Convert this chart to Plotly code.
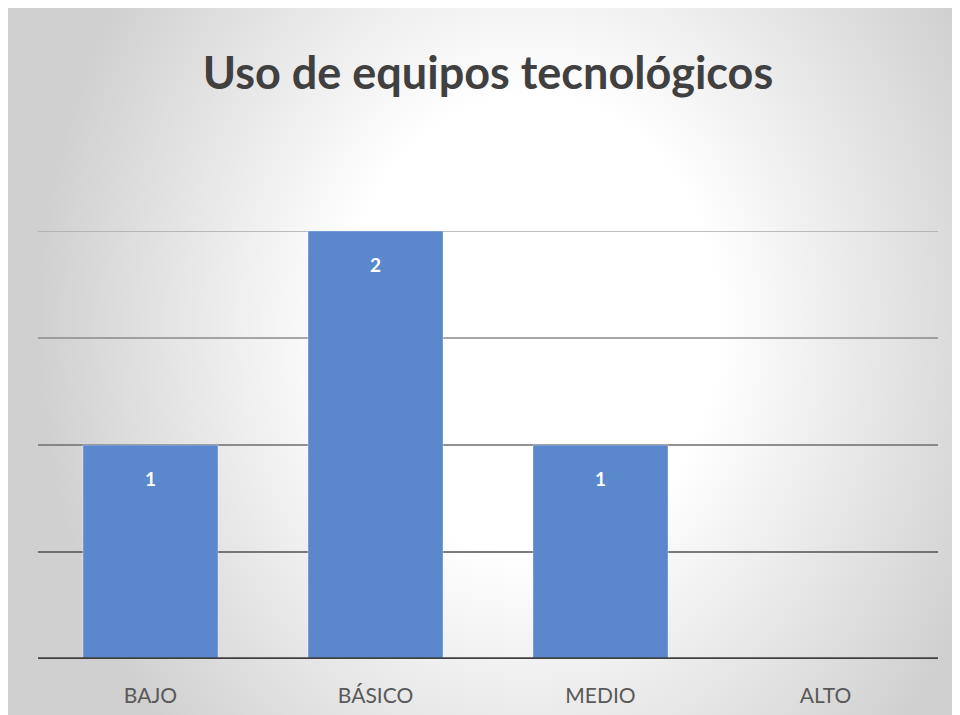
import base64
import plotly.graph_objects as go

# ---- data ----
categories = ["BAJO", "BÁSICO", "MEDIO", "ALTO"]
values = [1, 2, 1, 0]
grid_vals = [0.5, 1.0, 1.5, 2.0]
grid_colors = ["#4f4f4f", "#6c6c6c", "#8a8a8a", "#a8a8a8"]
title_text = "Uso de equipos tecnológicos"

# page body has an 8px margin, so the figure is sized to fit inside the window
W, H = 950, 707
ML, MR, MT, MB = 30, 20, 223, 56
PW, PH = W - ML - MR, H - MT - MB

# radial gradient background as an SVG image
gcx, gcy, grx, gry = 0.55 * W, 0.45 * H, 0.52 * W, 0.85 * H
svg = f'''<svg xmlns="http://www.w3.org/2000/svg" width="{W}" height="{H}" viewBox="0 0 {W} {H}" preserveAspectRatio="none">
<defs><radialGradient id="g" gradientUnits="userSpaceOnUse" cx="0" cy="0" r="1"
 gradientTransform="translate({gcx} {gcy}) scale({grx} {gry})">
<stop offset="0" stop-color="#ffffff"/>
<stop offset="0.38" stop-color="#ffffff"/>
<stop offset="1" stop-color="#d0d0d0"/>
</radialGradient></defs>
<rect x="0" y="0" width="{W}" height="{H}" fill="url(#g)"/>
</svg>'''
src = "data:image/svg+xml;base64," + base64.b64encode(svg.encode()).decode()

fig = go.Figure()
fig.add_trace(go.Bar(
    x=categories, y=values,
    marker=dict(color="#5b87cc", line=dict(color="rgba(255,255,255,0.35)", width=1)),
    hoverinfo="skip",
))

# data labels inside top of bars
for c, v in zip(categories, values):
    if v > 0:
        fig.add_annotation(x=c, y=v, text=f"<b>{v}</b>", showarrow=False,
                           yshift=-33, yanchor="middle",
                           font=dict(family="Lato", size=19, color="white"))

# gridlines with varying shades
shapes = []
for gv, gc in zip(grid_vals, grid_colors):
    shapes.append(dict(type="line", xref="paper", x0=0, x1=1, yref="y", y0=gv, y1=gv,
                       line=dict(color=gc, width=1.5), layer="below"))
shapes.append(dict(type="line", xref="paper", x0=0, x1=1, yref="y", y0=0, y1=0,
                   line=dict(color="#404040", width=3.5), layer="above"))

fig.update_layout(
    width=W, height=H,
    margin=dict(l=ML, r=MR, t=MT, b=MB),
    paper_bgcolor="#d0d0d0",
    plot_bgcolor="rgba(0,0,0,0)",
    showlegend=False,
    bargap=0.4,
    title=dict(text=f"<b>{title_text}</b>", x=0.5 + 5 / W, xanchor="center",
               y=1 - 65 / H, yanchor="middle", yref="container",
               font=dict(family="Lato", size=45, color="#404040")),
    xaxis=dict(showgrid=False, showline=False, ticks="", zeroline=False,
               tickfont=dict(family="Lato", size=21, color="#595959"),
               ticklabelstandoff=22, automargin=False),
    yaxis=dict(range=[0, 2], showgrid=False, zeroline=False, showticklabels=False,
               showline=False, ticks="", automargin=False),
    images=[dict(source=src, xref="paper", yref="paper",
                 x=-ML / PW, y=1 + MT / PH, sizex=W / PW, sizey=H / PH,
                 xanchor="left", yanchor="top", sizing="stretch", layer="below")],
    shapes=shapes,
)

fig.write_html("out.html")
